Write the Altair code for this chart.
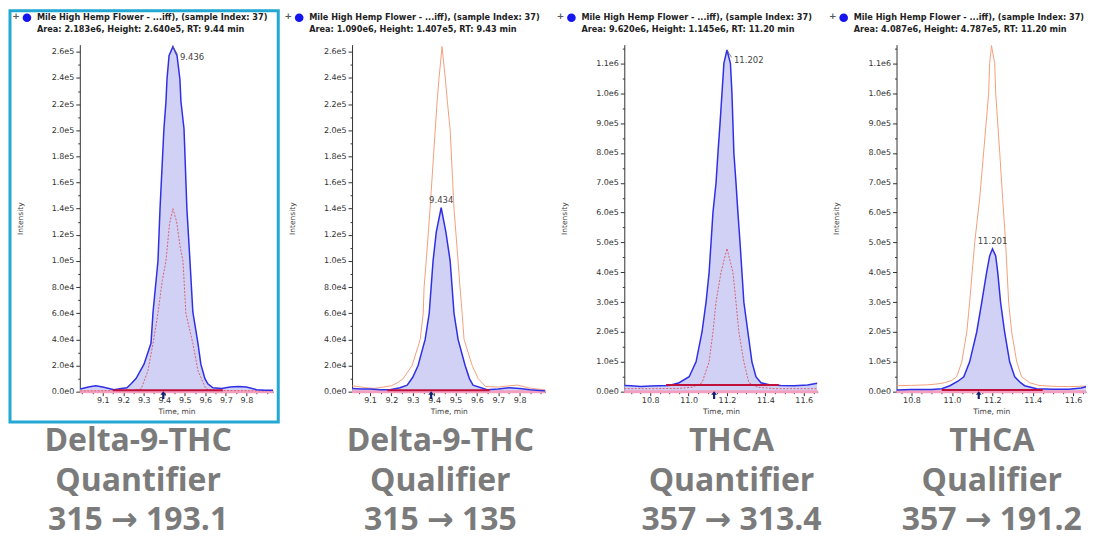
import json
import altair as alt
import pandas as pd

H = 348
widths = [194, 194, 194, 190]

# ---------------- data ----------------
# Panel 1: Delta-9-THC quantifier (blue) + qualifier overlay (red dotted)
p1_t = [8.99, 9.03, 9.065, 9.10, 9.155, 9.19, 9.218, 9.238, 9.262, 9.301, 9.335, 9.345, 9.369, 9.379,
        9.398, 9.408, 9.413, 9.423, 9.442, 9.462, 9.476, 9.481, 9.496, 9.51, 9.525, 9.539, 9.564, 9.578,
        9.598, 9.612, 9.637, 9.68, 9.72, 9.76, 9.80, 9.85, 9.89, 9.93]
p1_i = [2000, 3500, 4500, 3500, 1500, 2500, 3000, 6000, 10000, 21000, 37000, 61000, 100000, 140000,
        201000, 222000, 239000, 257000, 264000, 257000, 239000, 222000, 201000, 140000, 100000, 61000,
        37000, 21000, 10000, 6000, 3000, 2500, 3500, 4000, 3500, 1500, 1000, 1000]
p1q_t = [8.99, 9.25, 9.287, 9.32, 9.345, 9.369, 9.39, 9.408, 9.425, 9.442, 9.46, 9.478, 9.491, 9.505,
         9.539, 9.564, 9.603, 9.65, 9.93]
p1q_i = [500, 1000, 2000, 16000, 37000, 60000, 85000, 100000, 128000, 140000, 130000, 110000, 100000,
         60000, 37000, 16000, 2000, 1000, 500]

# Panel 2: Delta-9-THC qualifier (blue) + quantifier overlay (orange)
p2_t = [9.017, 9.06, 9.10, 9.15, 9.194, 9.24, 9.274, 9.30, 9.325, 9.358, 9.377, 9.386, 9.395, 9.41,
        9.433, 9.455, 9.475, 9.484, 9.493, 9.512, 9.545, 9.565, 9.582, 9.648, 9.70, 9.75, 9.80, 9.85, 9.92]
p2_i = [2500, 2000, 2000, 1500, 1500, 3000, 5000, 11000, 20000, 40000, 60000, 80000, 100000, 122000,
        140700, 122000, 100000, 80000, 60000, 40000, 20000, 10000, 5000, 1500, 2000, 3000, 2500, 1500, 500]
p2q_t = [9.017, 9.04, 9.08, 9.12, 9.16, 9.20, 9.23, 9.255, 9.297, 9.335, 9.349, 9.353, 9.363, 9.381,
         9.405, 9.414, 9.423, 9.437, 9.452, 9.462, 9.475, 9.493, 9.512, 9.521, 9.531, 9.54, 9.578, 9.606,
         9.64, 9.70, 9.75, 9.79, 9.84, 9.88, 9.92]
p2q_i = [4500, 4000, 3000, 2500, 3500, 4500, 7000, 10000, 20000, 40000, 60000, 80000, 100000, 140000,
         200000, 222000, 240000, 264000, 240000, 222000, 200000, 140000, 100000, 80000, 60000, 40000,
         20000, 10000, 4000, 3500, 4500, 5000, 3000, 2000, 1500]

# Panel 3: THCA quantifier (blue) + qualifier overlay (red dotted)
p3_t = [10.665, 10.70, 10.75, 10.80, 10.85, 10.90, 10.951, 11.003, 11.039, 11.07, 11.091, 11.107, 11.117,
        11.127, 11.143, 11.153, 11.164, 11.174, 11.184, 11.200, 11.218, 11.226, 11.231, 11.236, 11.247,
        11.257, 11.268, 11.278, 11.288, 11.309, 11.33, 11.351, 11.377, 11.42, 11.48, 11.55, 11.62, 11.67]
p3_i = [21000, 20000, 17000, 19000, 20000, 21000, 30000, 50000, 100000, 200000, 300000, 400000, 500000,
        600000, 700000, 800000, 900000, 1000000, 1100000, 1145000, 1100000, 1000000, 900000, 800000,
        700000, 600000, 500000, 400000, 300000, 200000, 100000, 50000, 30000, 23000, 21000, 20000, 22000, 28000]
p3q_t = [10.665, 10.80, 10.95, 11.02, 11.07, 11.107, 11.127, 11.143, 11.169, 11.2, 11.231, 11.247, 11.262,
         11.288, 11.314, 11.36, 11.45, 11.67]
p3q_i = [10000, 10000, 11000, 15000, 30000, 100000, 200000, 300000, 400000, 480000, 400000, 300000,
         200000, 100000, 30000, 15000, 10000, 10000]

# Panel 4: THCA qualifier (blue) + quantifier overlay (orange)
p4_t = [10.726, 10.80, 10.90, 10.95, 10.99, 11.03, 11.059, 11.088, 11.123, 11.148, 11.172, 11.187, 11.201,
        11.217, 11.227, 11.241, 11.261, 11.286, 11.311, 11.34, 11.36, 11.42, 11.50, 11.58, 11.64, 11.684]
p4_i = [6000, 7000, 7000, 10000, 20000, 35000, 50000, 100000, 200000, 300000, 400000, 455000, 478700,
        455000, 400000, 300000, 200000, 100000, 50000, 30000, 20000, 10000, 8000, 8000, 12000, 20000]
p4q_t = [10.726, 10.80, 10.88, 10.93, 10.965, 11.0, 11.024, 11.049, 11.074, 11.088, 11.113, 11.138, 11.157,
         11.182, 11.187, 11.196, 11.212, 11.217, 11.237, 11.251, 11.266, 11.281, 11.296, 11.321, 11.345,
         11.385, 11.43, 11.50, 11.58, 11.684]
p4q_i = [20000, 21000, 23000, 26000, 30000, 38000, 50000, 100000, 200000, 300000, 500000, 650000, 800000,
         1000000, 1100000, 1160000, 1100000, 1000000, 800000, 650000, 500000, 300000, 200000, 100000,
         50000, 30000, 21000, 18000, 17000, 19000]

# integration baselines (start, end, level), RT arrows, apex labels
integ = [(9.15, 9.685, 1000), (9.18, 9.66, 1000), (10.883, 11.47, 22000), (10.95, 11.45, 6000)]
arrow_t = [9.395, 9.386, 11.133, 11.133]
arrow_i = [-2700, -2700, -11700, -11700]
apex_t = [9.442, 9.433, 11.200, 11.201]
apex_i = [264000, 140700, 1145000, 478700]
apex_lbl = ["9.436", "9.434", "11.202", "11.201"]
# leader tick from apex towards its label (time offset, intensity offset); only panels 1 and 3 have one
leader_dt = [0.022, None, 0.024, None]
leader_di = [-6000, None, -25000, None]

x_domains = [[8.988, 9.931], [9.016, 9.921], [10.665, 11.673], [10.726, 11.664]]
y_max = [265500, 265500, 1163000, 1163000]

x_major_a = [9.1, 9.2, 9.3, 9.4, 9.5, 9.6, 9.7, 9.8]
x_all_a = [9.0, 9.05, 9.1, 9.15, 9.2, 9.25, 9.3, 9.35, 9.4, 9.45, 9.5, 9.55, 9.6, 9.65, 9.7, 9.75, 9.8, 9.85, 9.9]
x_major_b = [10.8, 11.0, 11.2, 11.4, 11.6]
x_all_b = [10.7, 10.75, 10.8, 10.85, 10.9, 10.95, 11.0, 11.05, 11.1, 11.15, 11.2, 11.25, 11.3, 11.35,
           11.4, 11.45, 11.5, 11.55, 11.6, 11.65]

header_l1 = "Mile High Hemp Flower - ...iff), (sample Index: 37)"
header_l2 = ["Area: 2.183e6, Height: 2.640e5, RT: 9.44 min",
             "Area: 1.090e6, Height: 1.407e5, RT: 9.43 min",
             "Area: 9.620e6, Height: 1.145e6, RT: 11.20 min",
             "Area: 4.087e6, Height: 4.787e5, RT: 11.20 min"]
big_labels = [["Delta-9-THC", "Quantifier", "315 \u2192 193.1"],
              ["Delta-9-THC", "Qualifier", "315 \u2192 135"],
              ["THCA", "Quantifier", "357 \u2192 313.4"],
              ["THCA", "Qualifier", "357 \u2192 191.2"]]
big_cx = [58.5, 88.5, 107.5, 95.5]
big_baselines = [407, 447.5, 486.5]

BLUE = "#2f2fe6"
FILL = "#cfcff5"
ORANGE = "#f4a07c"
REDDOT = "#d8606e"
CRIMSON = "#c0103c"
PINK = "#f3a0c0"
AX = "#333333"
ARROW_PATH = "M0,-1 L0.75,-0.1 L0.28,-0.1 L0.28,1 L-0.28,1 L-0.28,-0.1 L-0.75,-0.1 Z"


def panel(k, main_t, main_i, oth_t, oth_i, oth_color, oth_dash, xmaj, xall, ystep, yminor):
    xs = alt.Scale(domain=x_domains[k], nice=False, zero=False)
    ys = alt.Scale(domain=[0, y_max[k]], nice=False, zero=False)
    maj = json.dumps(xmaj)
    xaxis = alt.Axis(values=xall, labelOverlap=False, grid=False,
                     labelExpr=f"indexof({maj}, datum.value) >= 0 ? format(datum.value, '.1f') : ''",
                     tickSize={"condition": {"test": f"indexof({maj}, datum.value) >= 0", "value": 4}, "value": 2},
                     labelPadding=1, titlePadding=3)
    yvals = list(range(0, int(y_max[k]) + 1, yminor))
    yaxis = alt.Axis(values=yvals, labelOverlap=False, grid=False,
                     labelExpr=f"datum.value % {ystep} === 0 ? replace(format(datum.value, '.1e'), 'e+', 'e') : ''",
                     tickSize={"condition": {"test": f"datum.value % {ystep} === 0", "value": 4}, "value": 2},
                     labelPadding=2, titlePadding=27)

    def X(f="t"):
        return alt.X(f"{f}:Q", scale=xs, axis=xaxis, title="Time, min")

    def Y(f="i"):
        return alt.Y(f"{f}:Q", scale=ys, axis=yaxis, title="Intensity")

    main = pd.DataFrame({"t": main_t, "i": main_i})
    oth = pd.DataFrame({"t": oth_t, "i": oth_i})
    s, e, lev = integ[k]
    seg = pd.DataFrame({"t": [s], "t2": [e], "i": [lev]})
    base = pd.DataFrame({"t": [x_domains[k][0]], "t2": [x_domains[k][1]], "i": [0]})
    arr = pd.DataFrame({"t": [arrow_t[k]], "i": [arrow_i[k]]})
    apex = pd.DataFrame({"t": [apex_t[k]], "i": [apex_i[k]], "lbl": [apex_lbl[k]]})
    one = alt.Data(values=[{"a": 1}])

    layers = []
    layers.append(alt.Chart(main).mark_area(color=FILL, opacity=0.95, clip=True).encode(x=X(), y=Y()))
    layers.append(alt.Chart(base).mark_rule(color=PINK, strokeWidth=3).encode(x=X(), x2="t2:Q", y=Y()))
    oth_kw = dict(color=oth_color, strokeWidth=1, clip=True)
    if oth_dash:
        oth_kw["strokeDash"] = [2, 1.5]
    layers.append(alt.Chart(oth).mark_line(**oth_kw).encode(x=X(), y=Y()))
    layers.append(alt.Chart(main).mark_line(color=BLUE, strokeWidth=1.5, clip=True).encode(x=X(), y=Y()))
    layers.append(alt.Chart(seg).mark_rule(color=CRIMSON, strokeWidth=2).encode(x=X(), x2="t2:Q", y=Y()))
    layers.append(alt.Chart(arr).mark_point(shape=ARROW_PATH, filled=True, color="#14206e", size=60, opacity=1)
                  .encode(x=X(), y=Y()))
    if leader_dt[k] is not None:
        lead = pd.DataFrame({"t": [apex_t[k]], "t2": [apex_t[k] + leader_dt[k]],
                             "i": [apex_i[k]], "i2": [apex_i[k] + leader_di[k]]})
        layers.append(alt.Chart(lead).mark_rule(color="#666", strokeWidth=0.8)
                      .encode(x=X(), x2="t2:Q", y=Y(), y2="i2:Q"))
        lbl = alt.Chart(apex).mark_text(align="left", baseline="middle", dx=7, dy=10, fontSize=8.5,
                                        font="DejaVu Sans", color="#444")
    else:
        lbl = alt.Chart(apex).mark_text(align="center", baseline="bottom", dy=-3, fontSize=8.5,
                                        font="DejaVu Sans", color="#444")
    layers.append(lbl.encode(x=X(), y=Y(), text="lbl:N"))

    # header
    for txt, yy in ((header_l1, -27), (header_l2[k], -15)):
        layers.append(alt.Chart(one).mark_text(align="left", baseline="middle", fontSize=8.2, fontWeight="bold",
                                               font="DejaVu Sans", color="#222")
                      .encode(x=alt.value(-43), y=alt.value(yy), text=alt.value(txt)))
    layers.append(alt.Chart(one).mark_text(align="center", baseline="middle", fontSize=9, fontWeight="bold",
                                           font="DejaVu Sans", color="#555")
                  .encode(x=alt.value(-64), y=alt.value(-29), text=alt.value("+")))
    layers.append(alt.Chart(one).mark_point(shape="circle", filled=True, color="#1515f0", size=75, opacity=1)
                  .encode(x=alt.value(-53), y=alt.value(-27)))
    # big caption under each panel
    for txt, by in zip(big_labels[k], big_baselines):
        layers.append(alt.Chart(one).mark_text(align="center", baseline="alphabetic", fontSize=32,
                                               fontWeight="bold", font="'Open Sans', 'DejaVu Sans'",
                                               color="#7b7b7b")
                      .encode(x=alt.value(big_cx[k]), y=alt.value(by), text=alt.value(txt)))
    if k == 0:
        layers.append(alt.Chart(one).mark_rect(filled=False, stroke="#22a8d2", strokeWidth=3)
                      .encode(x=alt.value(-70), x2=alt.value(199), y=alt.value(-34), y2=alt.value(378.5)))

    return alt.layer(*layers).properties(width=widths[k], height=H)


c1 = panel(0, p1_t, p1_i, p1q_t, p1q_i, REDDOT, True, x_major_a, x_all_a, 20000, 10000)
c2 = panel(1, p2_t, p2_i, p2q_t, p2q_i, ORANGE, False, x_major_a, x_all_a, 20000, 10000)
c3 = panel(2, p3_t, p3_i, p3q_t, p3q_i, REDDOT, True, x_major_b, x_all_b, 100000, 50000)
c4 = panel(3, p4_t, p4_i, p4q_t, p4q_i, ORANGE, False, x_major_b, x_all_b, 100000, 50000)

chart = alt.hconcat(c1, c2, c3, c4, spacing=79, bounds="flush").properties(
    padding=0, background="white"
).configure_view(strokeWidth=0).configure_axis(
    domainColor=AX, tickColor=AX, labelColor=AX, labelFont="DejaVu Sans", labelFontSize=8,
    titleFont="DejaVu Sans", titleFontSize=7.5, titleFontWeight="normal", titleColor="#444",
    domainWidth=1, tickWidth=1,
)

chart.save("out.html", embed_options={"renderer": "svg", "actions": False})
